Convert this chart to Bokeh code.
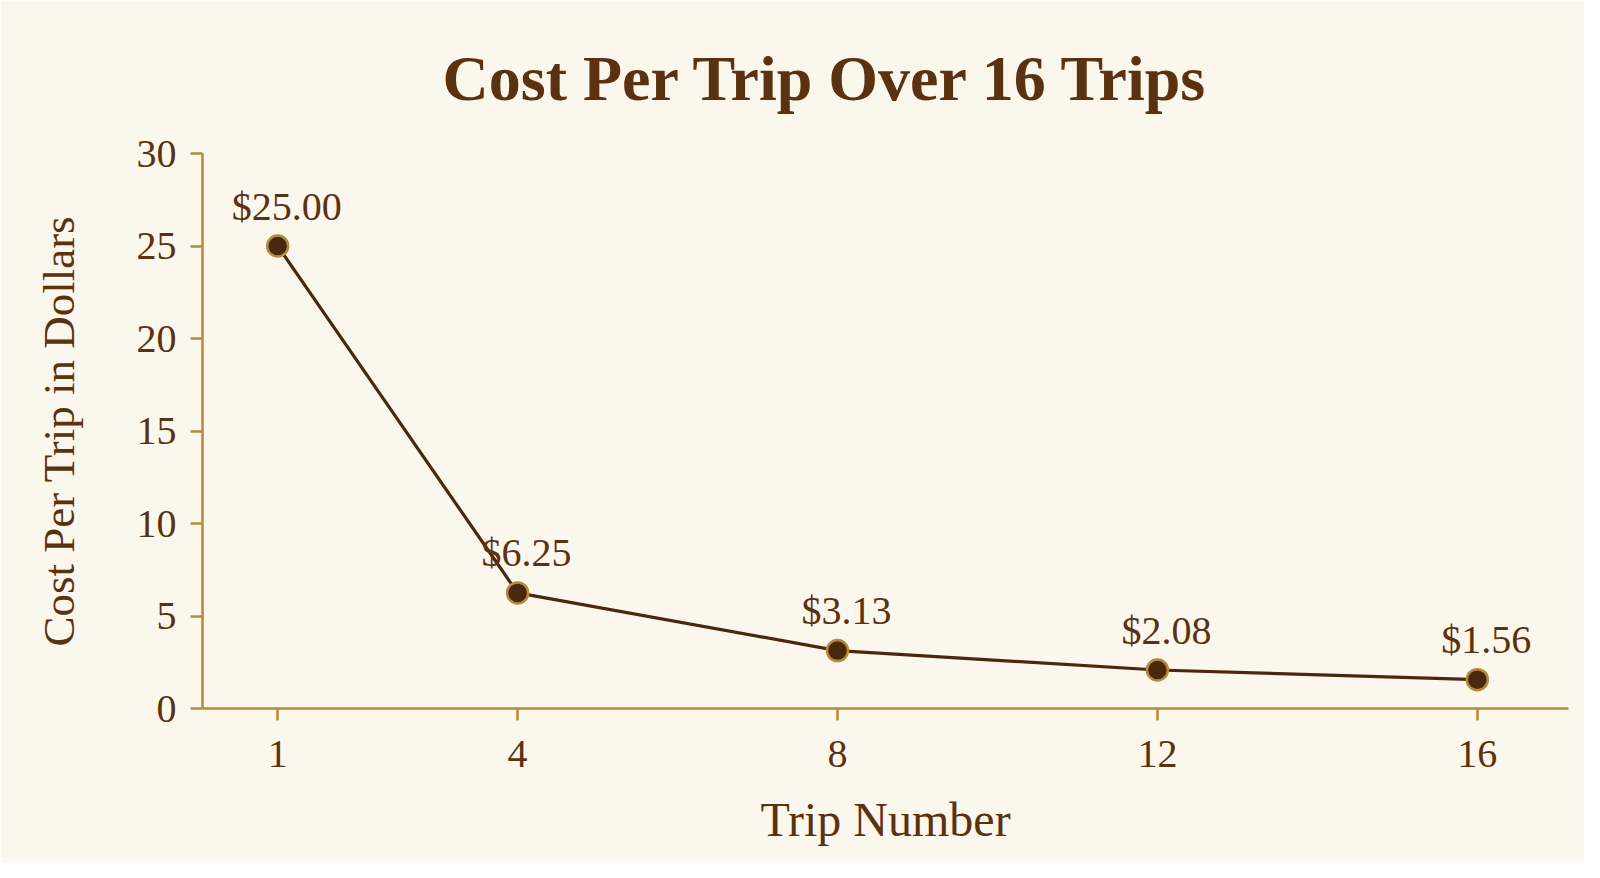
from bokeh.plotting import figure
from bokeh.models import ColumnDataSource, FixedTicker, Range1d
from bokeh.core.properties import value
from bokeh.embed import file_html
from bokeh.resources import INLINE

trips = [1, 4, 8, 12, 16]
cost = [25.00, 6.25, 3.13, 2.08, 1.56]
labels = ["$25.00", "$6.25", "$3.13", "$2.08", "$1.56"]
y_ticks = [0, 5, 10, 15, 20, 25, 30]

BG = "#fcf7ec"
TEXT = "#5a3212"
AXIS = "#b38b3c"
DARK = "#4a2810"
FONT = "Liberation Serif"

src = ColumnDataSource(dict(x=trips, y=cost, label=labels))

p = figure(width=1584, height=862, output_backend="svg", toolbar_location=None,
           x_range=Range1d(0.06, 17.14), y_range=Range1d(0, 30),
           min_border_left=202, min_border_right=16, min_border_top=152, min_border_bottom=154)
p.background_fill_color = BG
p.border_fill_color = BG
p.outline_line_color = None
p.grid.visible = False

p.title.text = "Cost Per Trip Over 16 Trips"
p.title.align = "left"
p.title.offset = 240
p.title.text_font = FONT
p.title.text_font_size = "64px"
p.title.text_font_style = "bold"
p.title.text_color = TEXT
p.title.standoff = 80

for ax in (p.xaxis[0], p.yaxis[0]):
    ax.axis_line_color = AXIS
    ax.axis_line_width = 2.5
    ax.major_tick_line_color = AXIS
    ax.major_tick_line_width = 2.5
    ax.major_tick_out = 12
    ax.major_tick_in = 0
    ax.minor_tick_line_color = None
    ax.major_label_text_font = FONT
    ax.major_label_text_font_size = "40px"
    ax.major_label_text_color = TEXT
    ax.axis_label_text_font = FONT
    ax.axis_label_text_font_style = "normal"
    ax.axis_label_text_color = TEXT

p.xaxis.ticker = FixedTicker(ticks=trips)
p.yaxis.ticker = FixedTicker(ticks=y_ticks)
p.xaxis.axis_label = "Trip Number"
p.yaxis.axis_label = "Cost Per Trip in Dollars"
p.xaxis.axis_label_text_font_size = "48px"
p.yaxis.axis_label_text_font_size = "45px"
p.xaxis.major_label_standoff = 20
p.yaxis.major_label_standoff = 14
p.xaxis.axis_label_standoff = 23
p.yaxis.axis_label_standoff = 50

p.line("x", "y", source=src, line_color=DARK, line_width=3.2)
p.scatter("x", "y", source=src, size=21, fill_color=DARK, line_color=AXIS, line_width=2.5)
p.text("x", "y", text="label", source=src, text_font=value(FONT),
       text_align="center", text_baseline="alphabetic", y_offset=-40, x_offset=9,
       text_font_size="40px", text_color=TEXT)

html = file_html(p, INLINE)
html = html.replace("<body>", '<body style="background:%s">' % BG, 1)
open("out.html", "w").write(html)
